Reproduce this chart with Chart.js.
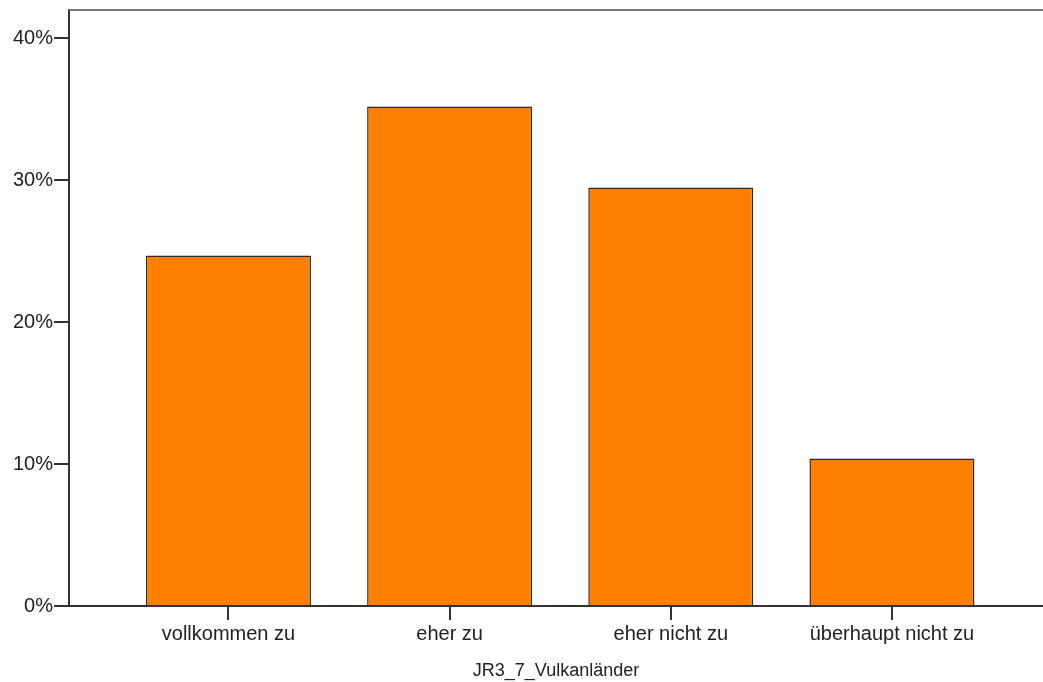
<!DOCTYPE html>
<html>
<head>
<meta charset="utf-8">
<script src="https://cdn.jsdelivr.net/npm/chart.js@4.4.0/dist/chart.umd.min.js"></script>
<style>
  html, body { margin: 0; padding: 0; background: #fff; }
  canvas { display: block; }
</style>
</head>
<body>
<canvas id="barChart" width="1043" height="682"></canvas>
<script>
// categories and percentages
const categories = ['vollkommen zu', 'eher zu', 'eher nicht zu', 'überhaupt nicht zu'];
const percentages = [24.7, 35.2, 29.5, 10.4];
const yTickValues = [0, 10, 20, 30, 40];
const axisTitle = 'JR3_7_Vulkanländer';

const points = categories.map((c, i) => ({ x: i + 1, y: percentages[i] }));

// top frame line, like the SPSS plot box
const topFrame = {
    id: 'topFrame',
    afterDraw(chart) {
        const ctx = chart.ctx;
        const area = chart.chartArea;
        ctx.save();
        ctx.strokeStyle = '#777';
        ctx.lineWidth = 2;
        ctx.beginPath();
        ctx.moveTo(area.left, area.top);
        ctx.lineTo(area.right, area.top);
        ctx.stroke();
        ctx.restore();
    }
};

const ctx = document.getElementById('barChart').getContext('2d');
const chart = new Chart(ctx, {
    type: 'bar',
    data: {
        datasets: [{
            data: points,
            backgroundColor: '#FF8000',
            borderColor: '#2a2a2a',
            borderWidth: 1.5,
            barPercentage: 0.746,
            categoryPercentage: 1
        }]
    },
    options: {
        responsive: false,
        animation: false,
        layout: { padding: { top: 10, left: 0, right: 0, bottom: 0 } },
        scales: {
            x: {
                type: 'linear',
                offset: false,
                min: 0.279,
                max: 4.683,
                afterBuildTicks: function (scale) {
                    scale.ticks = categories.map((c, i) => ({ value: i + 1 }));
                },
                afterFit: function (scale) {
                    scale.height = 76;
                },
                grid: {
                    offset: false,
                    drawOnChartArea: false,
                    drawTicks: true,
                    tickLength: 14,
                    color: '#333',
                    lineWidth: 2
                },
                border: { display: true, color: '#333', width: 2 },
                ticks: {
                    autoSkip: false,
                    maxRotation: 0,
                    padding: 2,
                    color: '#222',
                    font: { family: 'Liberation Sans', size: 20 },
                    callback: function (value) {
                        return categories[value - 1] || '';
                    }
                },
                title: {
                    display: true,
                    text: axisTitle,
                    color: '#222',
                    font: { family: 'Liberation Sans', size: 18 },
                    padding: { top: 0, bottom: 0 }
                }
            },
            y: {
                min: 0,
                max: 42,
                afterBuildTicks: function (scale) {
                    scale.ticks = yTickValues.map(v => ({ value: v }));
                },
                afterFit: function (scale) {
                    scale.width = 69;
                    scale.paddingTop = 0;
                    scale.paddingBottom = 0;
                },
                grid: {
                    drawOnChartArea: false,
                    drawTicks: true,
                    tickLength: 15,
                    color: '#333',
                    lineWidth: 2
                },
                border: { display: true, color: '#333', width: 2 },
                ticks: {
                    padding: 1,
                    color: '#222',
                    font: { family: 'Liberation Sans', size: 20 },
                    callback: function (value) {
                        return value + '%';
                    }
                }
            }
        },
        plugins: {
            legend: { display: false },
            tooltip: { enabled: false },
            title: { display: false }
        }
    },
    plugins: [topFrame]
});
</script>
</body>
</html>
